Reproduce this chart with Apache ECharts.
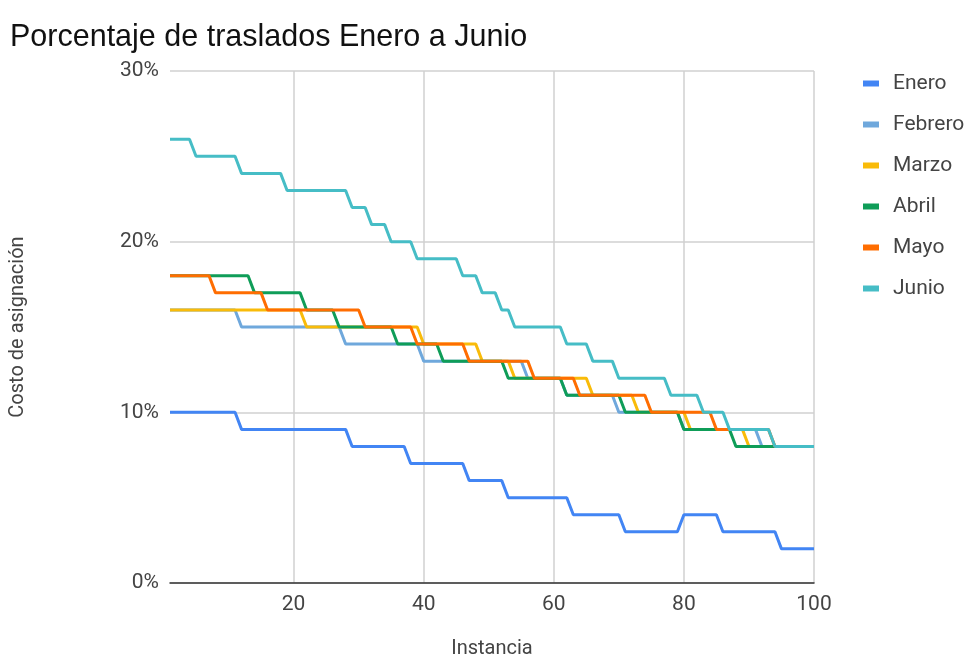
<!DOCTYPE html>
<html>
<head>
<meta charset="utf-8">
<script src="https://cdn.jsdelivr.net/npm/echarts@6/dist/echarts.min.js"></script>
<style>html,body{margin:0;padding:0;background:#fff}#c{width:964px;height:664px}</style>
</head>
<body>
<div id="c"></div>
<script>
var instancias = [];
for (var k = 1; k <= 100; k++) instancias.push(String(k));

var yTicks = ['0%', '10%', '20%', '30%'];

var enero = [
10,10,10,10,10,10,10,10,10,10,
10,9,9,9,9,9,9,9,9,9,
9,9,9,9,9,9,9,9,8,8,
8,8,8,8,8,8,8,7,7,7,
7,7,7,7,7,7,6,6,6,6,
6,6,5,5,5,5,5,5,5,5,
5,5,4,4,4,4,4,4,4,4,
3,3,3,3,3,3,3,3,3,4,
4,4,4,4,4,3,3,3,3,3,
3,3,3,3,2,2,2,2,2,2];

var febrero = [
16,16,16,16,16,16,16,16,16,16,
16,15,15,15,15,15,15,15,15,15,
15,15,15,15,15,15,15,14,14,14,
14,14,14,14,14,14,14,14,14,13,
13,13,13,13,13,13,13,13,13,13,
13,13,13,13,13,12,12,12,12,12,
12,11,11,11,11,11,11,11,11,10,
10,10,10,10,10,10,10,10,10,9,
9,9,9,9,9,9,9,9,9,9,
9,8,8,8,8,8,8,8,8,8];

var marzo = [
16,16,16,16,16,16,16,16,16,16,
16,16,16,16,16,16,16,16,16,16,
16,15,15,15,15,15,15,15,15,15,
15,15,15,15,15,15,15,15,15,14,
14,14,14,14,14,14,14,14,13,13,
13,13,13,12,12,12,12,12,12,12,
12,12,12,12,12,11,11,11,11,11,
11,11,10,10,10,10,10,10,10,10,
9,9,9,9,9,9,9,9,9,8,
8,8,8,8,8,8,8,8,8,8];

var abril = [
18,18,18,18,18,18,18,18,18,18,
18,18,18,17,17,17,17,17,17,17,
17,16,16,16,16,16,15,15,15,15,
15,15,15,15,15,14,14,14,14,14,
14,14,13,13,13,13,13,13,13,13,
13,13,12,12,12,12,12,12,12,12,
12,11,11,11,11,11,11,11,11,11,
10,10,10,10,10,10,10,10,10,9,
9,9,9,9,9,9,9,8,8,8,
8,8,8,8,8,8,8,8,8,8];

var mayo = [
18,18,18,18,18,18,18,17,17,17,
17,17,17,17,17,16,16,16,16,16,
16,16,16,16,16,16,16,16,16,16,
15,15,15,15,15,15,15,15,14,14,
14,14,14,14,14,14,13,13,13,13,
13,13,13,13,13,13,12,12,12,12,
12,12,12,11,11,11,11,11,11,11,
11,11,11,11,10,10,10,10,10,10,
10,10,10,10,9,9,9,9,9,9,
9,9,9,8,8,8,8,8,8,8];

var junio = [
26,26,26,26,25,25,25,25,25,25,
25,24,24,24,24,24,24,24,23,23,
23,23,23,23,23,23,23,23,22,22,
22,21,21,21,20,20,20,20,19,19,
19,19,19,19,19,18,18,18,17,17,
17,16,16,15,15,15,15,15,15,15,
15,14,14,14,14,13,13,13,13,12,
12,12,12,12,12,12,12,11,11,11,
11,11,10,10,10,10,9,9,9,9,
9,9,9,8,8,8,8,8,8,8];

var seriesNames = ['Enero', 'Febrero', 'Marzo', 'Abril', 'Mayo', 'Junio'];
var seriesData = [enero, febrero, marzo, abril, mayo, junio];
var colors = ['#4285f4', '#6fa8dc', '#f9bb09', '#0f9d58', '#ff6d01', '#46bdc6'];

var chart = echarts.init(document.getElementById('c'));
var font = 'Roboto, Arial, sans-serif';
chart.setOption({
  animation: false,
  color: colors,
  title: {
    text: 'Porcentaje de traslados Enero a Junio',
    left: 5, top: 17,
    textStyle: { fontFamily: 'Liberation Sans, Arial, sans-serif', fontSize: 30.5, fontWeight: 'normal', color: '#111' }
  },
  legend: {
    orient: 'vertical',
    left: 858, top: 68,
    itemWidth: 16, itemHeight: 6, itemGap: 20,
    icon: 'rect',
    textStyle: { fontFamily: font, fontSize: 21, color: '#444', lineHeight: 21, padding: [0, 0, 0, 9] },
    data: seriesNames
  },
  grid: { left: 168, right: 150, top: 71, bottom: 66, containLabel: false },
  xAxis: {
    type: 'category',
    data: instancias,
    boundaryGap: false,
    name: 'Instancia',
    nameLocation: 'middle',
    nameGap: 56,
    nameTextStyle: { fontFamily: font, fontSize: 20, color: '#444' },
    axisLine: { show: true, lineStyle: { color: '#333', width: 1.5 } },
    axisTick: { show: false },
    axisLabel: {
      interval: function (index) { return (index + 1) % 20 === 0; },
      fontFamily: font, fontSize: 21, color: '#444', margin: 11
    },
    splitLine: {
      show: true,
      interval: function (index) { return (index + 1) % 20 === 0; },
      lineStyle: { color: '#d0d0d0', width: 1.5 }
    }
  },
  yAxis: {
    type: 'value',
    min: 0, max: 30, interval: 10,
    name: 'Costo de asignación',
    nameLocation: 'middle',
    nameGap: 142,
    nameTextStyle: { fontFamily: font, fontSize: 20, color: '#444' },
    axisLine: { show: false },
    axisTick: { show: false },
    axisLabel: {
      formatter: function (v) { return yTicks[Math.round(v / 10)]; },
      fontFamily: font, fontSize: 21, color: '#444', margin: 11
    },
    splitLine: { lineStyle: { color: '#d0d0d0', width: 1.5 } }
  },
  series: seriesNames.map(function (n, i) {
    return {
      name: n,
      type: 'line',
      data: seriesData[i],
      showSymbol: false,
      symbol: 'none',
      lineStyle: { width: 3, color: colors[i] },
      itemStyle: { color: colors[i] }
    };
  })
});
</script>
</body>
</html>
